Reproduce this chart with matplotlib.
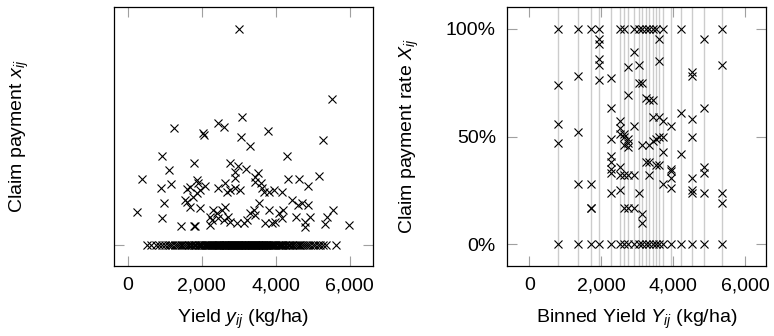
import matplotlib.pyplot as plt
from matplotlib.ticker import FuncFormatter

plt.rcParams['font.family'] = 'Liberation Sans'
plt.rcParams['mathtext.fontset'] = 'custom'
plt.rcParams['mathtext.rm'] = 'Liberation Sans'
plt.rcParams['mathtext.it'] = 'Liberation Sans:italic'

# left panel: yield (kg/ha) of farms with a claim payment, and the payment
paid_yield = [3016, 5530, 3081, 1260, 2432, 2611, 2043, 2070, 3784, 3054, 3305, 5287,
              935, 4297, 1116, 395, 900, 1170, 1792, 2765, 2990, 2900, 3197, 3530,
              3441, 4341, 4630, 4881, 5170, 243, 981, 919, 1432, 1792, 1820,
              1595, 1684, 1865, 1910, 2089, 1954, 1765, 1549, 1595, 1684, 1954, 1865,
              2432, 2685, 2775, 2910, 3045, 2640, 2910, 3630, 3680, 3810, 3950, 4180, 3590, 3450,
              2225, 2315, 2405, 2540, 2630, 2720, 2590, 2770, 2950, 3135, 3225, 3315,
              3405, 3450, 3540, 3720, 3810, 3900, 3990, 4080, 4200, 4160, 4430, 4560,
              4610, 4700, 4790, 4880, 4930, 4790, 5330, 5380, 5540, 5970, 2270, 2225, 2450]
payment = [100.0, 67.6, 59.1, 54.3, 56.6, 54.8, 51.7, 50.9, 52.8, 50.1, 45.8, 48.6,
           41.3, 41.3, 34.6, 30.6, 26.5, 28.2, 37.8, 37.8, 36.7, 33.9, 35.0, 33.5,
           31.6, 30.6, 30.6, 27.3, 31.9, 15.1, 19.6, 12.3, 8.8, 8.8, 9.0,
           25.9, 27.0, 30.1, 28.5, 27.3, 25.5, 22.4, 20.8, 20.0, 17.7, 17.0, 23.9,
           26.2, 24.7, 25.5, 26.2, 25.5, 28.5, 30.9, 26.2, 24.7, 24.7, 25.5, 24.7, 28.5, 29.3,
           13.1, 16.2, 14.7, 16.2, 17.7, 13.1, 11.6, 10.8, 10.0, 10.0, 11.6, 14.7,
           16.2, 13.9, 19.3, 10.0, 16.2, 10.0, 10.8, 14.7, 16.2, 12.3, 20.8, 13.1,
           18.5, 19.3, 8.5, 18.5, 13.1, 10.8, 9.7, 13.1, 16.2, 9.3, 11.6, 9.3, 12.3]

# left panel: yields of farms without a payment
zero_yield = [520, 640, 760, 850, 930, 1010, 1080, 1150, 1210, 1270, 1330, 1380, 1430,
              1480, 1530, 1580, 1620, 1660, 1700, 1740, 1780, 1820, 1850, 1890, 1920,
              1960, 1990, 2020, 2050, 2080, 2110, 2140, 2170, 2200, 2230, 2255, 2280,
              2305, 2330, 2355, 2380, 2405, 2430, 2455, 2480, 2505, 2530, 2550, 2570,
              2590, 2610, 2630, 2650, 2670, 2690, 2710, 2730, 2750, 2770, 2790, 2810,
              2830, 2850, 2870, 2890, 2910, 2930, 2950, 2970, 2990, 3010, 3030, 3050,
              3070, 3090, 3110, 3130, 3150, 3170, 3190, 3210, 3230, 3250, 3270, 3290,
              3310, 3330, 3350, 3370, 3390, 3410, 3430, 3450, 3470, 3490, 3510, 3530,
              3550, 3570, 3590, 3610, 3630, 3650, 3670, 3690, 3710, 3730, 3750, 3775,
              3800, 3825, 3850, 3875, 3900, 3930, 3960, 3990, 4020, 4050, 4080, 4110,
              4140, 4170, 4200, 4240, 4280, 4320, 4360, 4400, 4440, 4480, 4520, 4570,
              4620, 4670, 4720, 4770, 4820, 4880, 4940, 5000, 5060, 5130, 5200, 5280,
              5360, 5630]

# right panel: bin centres and payment rates (%) in each bin
bin_centers = [806, 1361, 1714, 1944, 2261, 2519, 2639, 2750, 2908, 3047, 3139,
               3233, 3325, 3428, 3519, 3611, 3722, 3928, 4214, 4519, 4861, 5361]
bin_rates = [
    [100, 74, 56, 47, 0],
    [100, 78, 52, 28, 0],
    [100, 28, 17, 17, 0],
    [100, 95, 93, 86, 83, 76, 0],
    [77, 63, 49, 41, 38, 35, 33, 24, 0],
    [100, 57, 54, 51, 36, 32, 25, 0],
    [100, 51, 50, 46, 32, 17, 0],
    [82, 69, 49, 47, 45, 32, 17, 0],
    [100, 89, 55, 32, 17, 0],
    [100, 83, 75, 24, 0],
    [100, 75, 46, 14, 10, 0],
    [100, 68, 38, 0],
    [100, 67, 46, 38, 32, 0],
    [100, 67, 59, 48, 0],
    [100, 49, 37, 0],
    [95, 85, 59, 50, 37, 0],
    [100, 57, 50, 43, 28, 0],
    [55, 35, 34, 31, 26, 0],
    [100, 61, 42, 0],
    [80, 78, 58, 50, 31, 25, 24, 0],
    [95, 63, 36, 33, 24, 0],
    [100, 83, 24, 19, 0],
]

xticks = [0, 2000, 4000, 6000]
rate_ticks = [0, 50, 100]

fig = plt.figure(figsize=(7.74, 3.36), dpi=100)
ax1 = fig.add_axes([114/774, 70/336, 259/774, 259/336])
ax2 = fig.add_axes([507/774, 70/336, 259/774, 259/336])

mk = dict(linestyle='none', marker='x', color='black', markersize=5.5, markeredgewidth=0.8)

ax1.plot(zero_yield, [0] * len(zero_yield), **mk)
ax1.plot(paid_yield, payment, **mk)
ax1.set_xlim(-370, 6630)
ax1.set_ylim(-9.7, 110.2)
ax1.set_yticks([0])
ax1.set_yticklabels([''])
ax1.set_xlabel('Yield $y_{ij}$ (kg/ha)', fontsize=14, labelpad=10)
ax1.set_ylabel('Claim payment $x_{ij}$', fontsize=14)
ax1.yaxis.set_label_coords(-0.32, 0.5)

for c, rates in zip(bin_centers, bin_rates):
    ax2.axvline(c, color='#cccccc', lw=1, zorder=0)
    ax2.plot([c] * len(rates), rates, **mk)
ax2.set_xlim(-620, 6575)
ax2.set_ylim(-10, 110)
ax2.set_yticks(rate_ticks)
ax2.yaxis.set_major_formatter(FuncFormatter(lambda v, p: '%d%%' % v))
ax2.set_xlabel('Binned Yield $Y_{ij}$ (kg/ha)', fontsize=14, labelpad=10)
ax2.set_ylabel('Claim payment rate $X_{ij}$', fontsize=14)
ax2.yaxis.set_label_coords(-0.332, 0.5)

for ax in [ax1, ax2]:
    ax.set_xticks(xticks)
    ax.xaxis.set_major_formatter(FuncFormatter(lambda v, p: '{:,}'.format(int(v))))
    ax.tick_params(direction='in', length=7.5, width=0.8, color='#a0a0a0',
                   top=True, right=True, labelsize=14, pad=8)
    for s in ax.spines.values():
        s.set_linewidth(0.9)

plt.savefig('out.png', dpi=100)
